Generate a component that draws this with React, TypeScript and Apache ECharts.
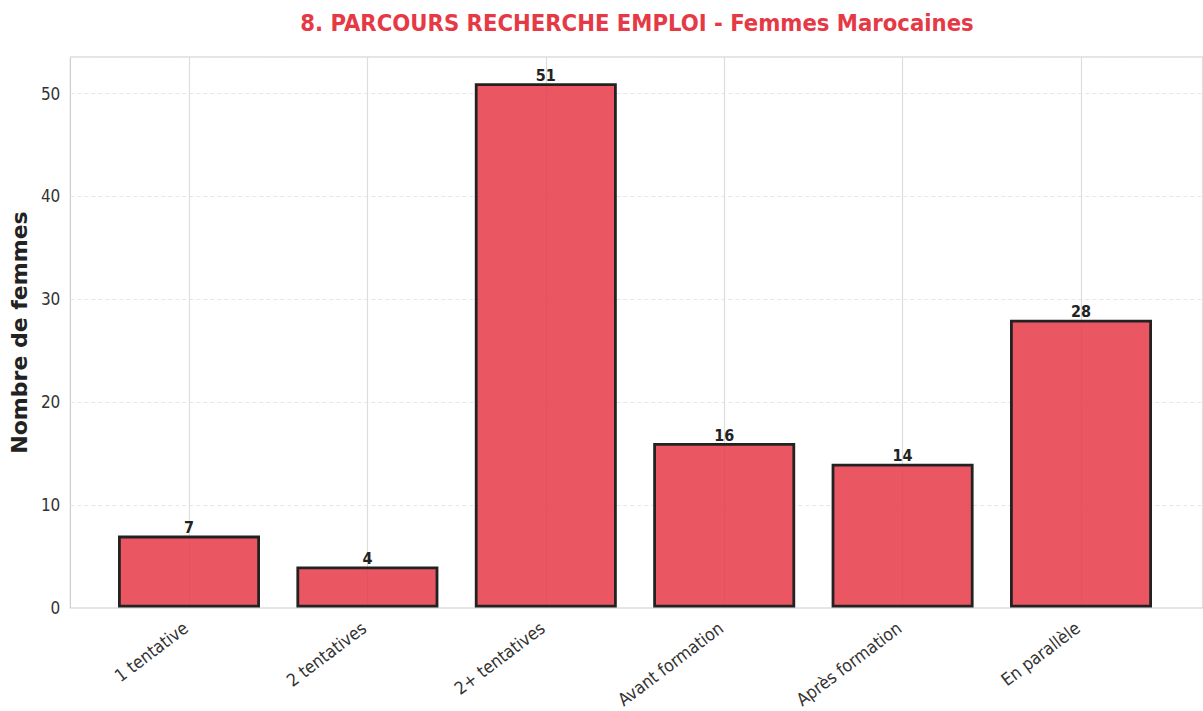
import React, { useEffect, useRef } from "react";
import * as echarts from "echarts";

const categories = ["1 tentative", "2 tentatives", "2+ tentatives", "Avant formation", "Après formation", "En parallèle"];
const values = [7, 4, 51, 16, 14, 28];
const yTicks = [0, 10, 20, 30, 40, 50];
const titleText = "8. PARCOURS RECHERCHE EMPLOI - Femmes Marocaines";
const yName = "Nombre de femmes";

const FONT = "'DejaVu Sans Condensed', 'DejaVu Sans', sans-serif";

export default function App() {
  const ref = useRef<HTMLDivElement>(null);
  useEffect(() => {
    document.body.style.margin = "0";
    const chart = echarts.init(ref.current!, null, { renderer: "svg" });
    const yMax = 53.55;
    chart.setOption({
      animation: false,
      backgroundColor: "#ffffff",
      title: {
        text: titleText,
        left: 632,
        textAlign: "center",
        top: 6,
        textStyle: { fontFamily: FONT, fontSize: 23.6, fontWeight: "bold", color: "#E63946" },
      },
      grid: [
        { left: 67, right: -5, top: 57, bottom: 103, show: true, borderColor: "#cccccc", borderWidth: 1.2, backgroundColor: "transparent" },
        { left: 189, right: 122, top: 57, bottom: 103 },
      ],
      xAxis: [
        { type: "value", gridIndex: 0, min: 0, max: 1, show: false },
        {
          type: "category",
          gridIndex: 1,
          data: categories,
          boundaryGap: false,
          axisLine: { show: false },
          axisTick: { show: false },
          splitLine: { show: true, lineStyle: { color: "#dddddd", width: 1.2 } },
          axisLabel: { interval: 0, rotate: 37, fontFamily: FONT, fontSize: 17.5, color: "#333333", margin: 16, padding: [0, 4, 0, 0] },
        },
      ],
      yAxis: [
        {
          type: "value",
          gridIndex: 0,
          min: 0,
          max: yMax,
          interval: 10,
          axisLine: { show: false },
          axisTick: { show: false },
          axisLabel: {
            fontFamily: FONT,
            fontSize: 17,
            color: "#333333",
            margin: 10,
            formatter: (v: number) => (yTicks.includes(v) ? String(v) : ""),
          },
          splitLine: { show: true, lineStyle: { color: "#e6e6e6", type: [4, 3], width: 1 } },
          name: yName,
          nameLocation: "middle",
          nameRotate: 90,
          nameGap: 36,
          nameTextStyle: { fontFamily: "'DejaVu Sans', sans-serif", fontSize: 22, fontWeight: "bold", color: "#222222" },
        },
        { type: "value", gridIndex: 1, min: 0, max: yMax, show: false },
      ],
      series: [
        {
          type: "bar",
          xAxisIndex: 1,
          yAxisIndex: 1,
          data: values,
          barWidth: 142,
          itemStyle: { color: "rgba(230,57,70,0.85)", borderColor: "#222222", borderWidth: 2.8 },
          label: {
            show: true,
            position: "top",
            distance: 0,
            fontFamily: FONT,
            fontSize: 16,
            fontWeight: "bold",
            color: "#222222",
          },
        },
      ],
    });
    return () => chart.dispose();
  }, []);
  return <div ref={ref} style={{ width: 1203, height: 711 }} />;
}
